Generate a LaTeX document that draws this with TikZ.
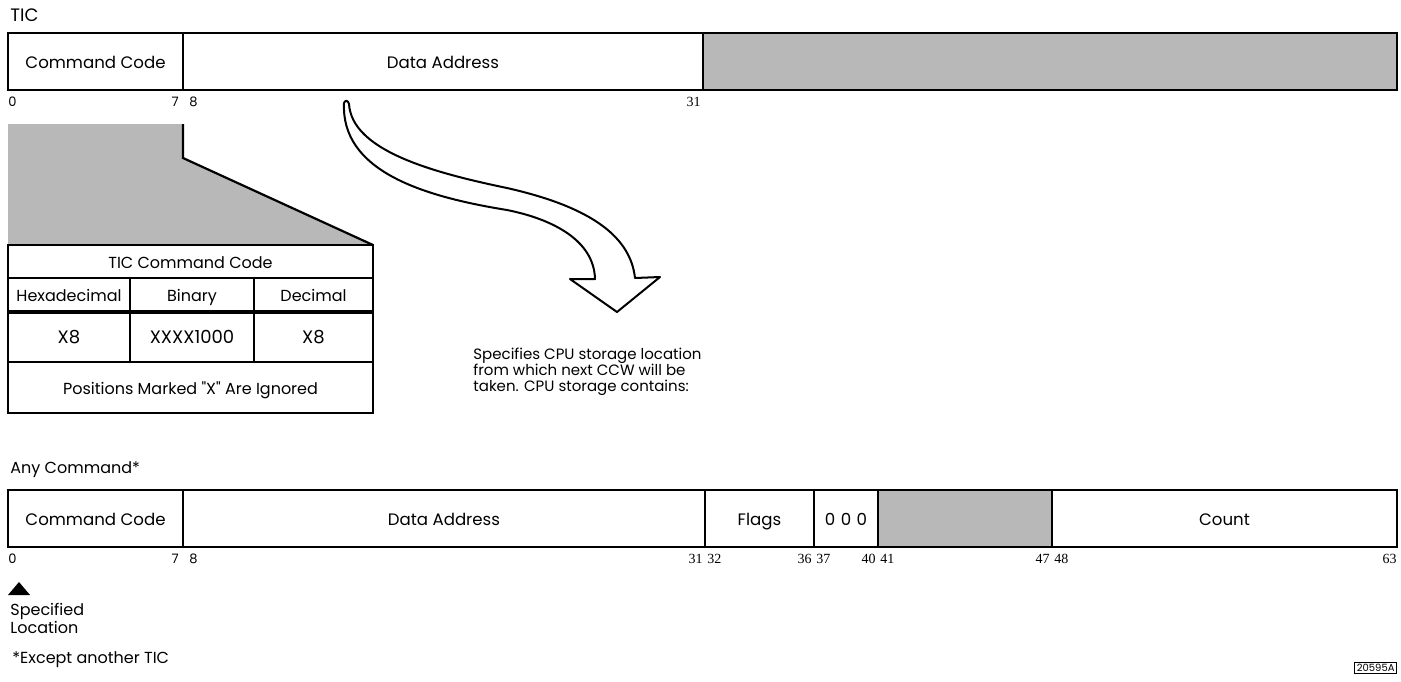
\documentclass[tikz,border=0pt]{standalone}
\usepackage{fontspec}
\setmainfont{Poppins}
\newfontfamily\numfont{Liberation Serif}
\usetikzlibrary{positioning}
\tikzset{
  field/.style ={draw, line width=1.1pt, anchor=north west, minimum height=28.5pt,
                 inner sep=0pt, outer sep=0pt, text height=1.5ex, text depth=0.3ex,
                 font=\fontsize{8.3}{9}\selectfont},
  shade/.style ={fill=black!28},
  cell/.style  ={draw, line width=0.9pt, anchor=north west, inner sep=0pt, outer sep=0pt,
                 text height=1.5ex, text depth=0.3ex, font=\fontsize{8}{9}\selectfont},
  bitno/.style ={inner sep=0pt, yshift=-3.5pt, font=\fontsize{6.5}{7}\selectfont},
  bitnr/.style ={bitno, font=\numfont\fontsize{7}{8}\selectfont},
  lbl/.style   ={inner sep=0pt, anchor=west, align=left, font=\fontsize{8}{9}\selectfont},
}

\begin{document}
\begin{tikzpicture}[x=0.5pt,y=-0.5pt]
\useasboundingbox (0,0) rectangle (1401,681);

% TIC word
\node[lbl, font=\fontsize{9}{10}\selectfont] (tictitle) at (10,15) {TIC};
\node[field, minimum width=87.5pt] (tcc) at (8,33) {Command Code};
\node[field, minimum width=260pt] (tda) at (tcc.north east) {Data Address};
\node[field, shade, minimum width=347pt] (tres) at (tda.north east) {};
\node[bitno, anchor=north west] (t0) at (tcc.south west) {0};
\node[bitno, anchor=north east, xshift=-2pt] (t7) at (tcc.south east) {7};
\node[bitno, anchor=north west, xshift=3pt] (t8) at (tcc.south east) {8};
\node[bitnr, anchor=north east, xshift=-1pt] (t31) at (tda.south east) {31};

% command code blow-up
\fill[shade] (8,124) -- (183,124) -- (183,158) -- (373,245) -- (8,245) -- cycle;
\draw[line width=1.1pt] (183,124) -- (183,158) -- (373,245);
\node[cell, minimum width=182.5pt, minimum height=16.5pt] (ttitle) at (8,245) {TIC Command Code};
\node[cell, minimum width=61pt, minimum height=17pt] (thex) at (ttitle.south west) {Hexadecimal};
\node[cell, minimum width=62pt, minimum height=17pt] (tbin) at (thex.north east) {Binary};
\node[cell, minimum width=59.5pt, minimum height=17pt] (tdec) at (tbin.north east) {Decimal};
\node[cell, minimum width=61pt, minimum height=25pt, font=\fontsize{9}{10}\selectfont] (vhex) at (thex.south west) {X8};
\node[cell, minimum width=62pt, minimum height=25pt, font=\fontsize{9}{10}\selectfont] (vbin) at (vhex.north east) {XXXX1000};
\node[cell, minimum width=59.5pt, minimum height=25pt, font=\fontsize{9}{10}\selectfont] (vdec) at (vbin.north east) {X8};
\node[cell, minimum width=182.5pt, minimum height=25.5pt] (tnote) at (vhex.south west) {Positions Marked \textquotedbl X\textquotedbl\ Are Ignored};
\draw[line width=2pt] (thex.south west) -- (tdec.south east);
\draw[line width=1.3pt] (ttitle.north east) -- (tnote.south east);

% hollow arrow
\coordinate (arrtail) at (344,103);
\coordinate (arrtip) at (617,312);
\draw[line width=1pt, fill=white, line join=round]
  (arrtail) .. controls (341,170) and (420,196) .. (507,210)
  .. controls (552,219) and (594,240) .. (595,279)
  -- (570,279) -- (arrtip) -- (660,277) -- (635,278)
  .. controls (630,232) and (582,205) .. (507,188)
  .. controls (430,172) and (352,150) .. (349,104)
  .. controls (348,100) and (345,100) .. cycle;
\node[lbl, anchor=north west, font=\fontsize{7.5}{8}\selectfont] (cpunote) at (473,348)
  {Specifies CPU storage location\\from which next CCW will be\\taken. CPU storage contains:};

% any command
\node[lbl] (anytitle) at (10,470) {Any Command*};
\node[field, minimum width=87.5pt] (acc) at (8,490) {Command Code};
\node[field, minimum width=261pt] (ada) at (acc.north east) {Data Address};
\node[field, minimum width=54.5pt] (afl) at (ada.north east) {Flags};
\node[field, minimum width=32pt] (azero) at (afl.north east) {0\,\,0\,\,0};
\node[field, shade, minimum width=87pt] (ares) at (azero.north east) {};
\node[field, minimum width=172.5pt] (acnt) at (ares.north east) {Count};
\node[bitno, anchor=north west] (a0) at (acc.south west) {0};
\node[bitno, anchor=north east, xshift=-2pt] (a7) at (acc.south east) {7};
\node[bitno, anchor=north west, xshift=3pt] (a8) at (acc.south east) {8};
\node[bitnr, anchor=north east, xshift=-1pt] (a31) at (ada.south east) {31};
\node[bitnr, anchor=north west, xshift=1pt] (a32) at (ada.south east) {32};
\node[bitnr, anchor=north east, xshift=-1pt] (a36) at (afl.south east) {36};
\node[bitnr, anchor=north west, xshift=1pt] (a37) at (afl.south east) {37};
\node[bitnr, anchor=north east, xshift=-1pt] (a40) at (azero.south east) {40};
\node[bitnr, anchor=north west, xshift=1pt] (a41) at (azero.south east) {41};
\node[bitnr, anchor=north east, xshift=-1pt] (a47) at (ares.south east) {47};
\node[bitnr, anchor=north west, xshift=1pt] (a48) at (ares.south east) {48};
\node[bitnr, anchor=north east] (a63) at (acnt.south east) {63};

% specified location marker
\fill (8,595) -- (30,595) -- (19,582) -- cycle;
\node[lbl, anchor=north west, font=\fontsize{8}{8}\selectfont] (specloc) at (10,603) {Specified\\Location};
\node[lbl, font=\fontsize{8}{9}\selectfont] (except) at (12,660) {*Except another TIC};
\node[draw, line width=0.5pt, inner sep=1pt, anchor=south east, font=\fontsize{5}{5}\selectfont] (figno) at (1397,674) {20595A};
\end{tikzpicture}
\end{document}
